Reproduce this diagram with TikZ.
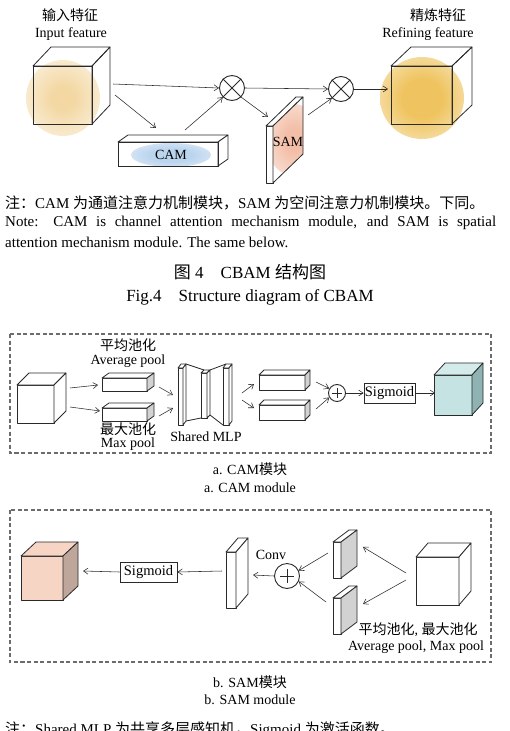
\documentclass[tikz,border=0pt]{standalone}
\usepackage{fontspec}
\setmainfont{Liberation Serif}
\newfontfamily\cjk{Noto Sans CJK SC}
\usetikzlibrary{arrows.meta}
\definecolor{gIn}{HTML}{F3D8A4}
\definecolor{gOut}{HTML}{EFC460}
\definecolor{gCam}{HTML}{BCD5EF}
\definecolor{gSam}{HTML}{F3BEA7}
\definecolor{cyF}{HTML}{C6E3E3}
\definecolor{cyT}{HTML}{D4EBEB}
\definecolor{cyS}{HTML}{8FB2B2}
\definecolor{pkF}{HTML}{F6D5C4}
\definecolor{pkS}{HTML}{BEA69B}
\definecolor{sideG}{HTML}{D2D2D2}
\definecolor{lineC}{HTML}{2A2A2A}
\pgfdeclareradialshading{glowIn}{\pgfpoint{0bp}{0bp}}{color(0bp)=(gIn); color(8bp)=(gIn); color(28bp)=(gIn!45!white); color(44bp)=(white); color(50bp)=(white)}
\pgfdeclareradialshading{glowOut}{\pgfpoint{0bp}{0bp}}{color(0bp)=(gOut); color(12bp)=(gOut); color(30bp)=(gOut!50!white); color(45bp)=(white); color(50bp)=(white)}
\pgfdeclareradialshading{glowCam}{\pgfpoint{0bp}{0bp}}{color(0bp)=(gCam); color(14bp)=(gCam); color(32bp)=(gCam!50!white); color(46bp)=(white); color(50bp)=(white)}
\pgfdeclareradialshading{glowSam}{\pgfpoint{0bp}{0bp}}{color(0bp)=(gSam); color(8bp)=(gSam); color(30bp)=(gSam!45!white); color(46bp)=(white); color(50bp)=(white)}
% #1 x, #2 y (front top-left), #3 w, #4 h, #5 dx, #6 dy(up), #7 front, #8 top, #9 side
\newcommand{\cbox}[9]{%
  \draw[boxline,fill=#7] (#1,#2) rectangle ++(#3,#4);
  \draw[boxline,fill=#8] (#1,#2) -- ++(#5,-#6) -- ++(#3,0) -- ++(-#5,#6) -- cycle;
  \draw[boxline,fill=#9] (#1+#3,#2) -- ++(#5,-#6) -- ++(0,#4) -- ++(-#5,#6) -- cycle;
}
\tikzset{
  boxline/.style={draw=lineC,line width=0.8pt,line join=round},
  arr/.style={draw=lineC,line width=0.55pt,-{Straight Barb[length=4.5pt,width=6pt]}},
  lbl/.style={inner sep=0pt,font=\fontsize{14}{16}\selectfont},
  note/.style={inner sep=0pt,anchor=west,font=\fontsize{15}{17}\selectfont},
  captxt/.style={inner sep=0pt,font=\fontsize{17}{19}\selectfont},
  opcirc/.style={circle,draw=lineC,line width=0.9pt,inner sep=0pt},
  sigbox/.style={draw=lineC,line width=0.9pt,inner sep=0pt,minimum height=20pt,font=\fontsize{14.5}{16}\selectfont},
  frame/.style={draw=gray!85!black,line width=1.2pt,dash pattern=on 4pt off 2.5pt}
}
\begin{document}
\begin{tikzpicture}[x=1pt,y=-1pt]
\useasboundingbox (0,0) rectangle (509,731);
\fill[white] (0,0) rectangle (509,731);

%================ top CBAM ==================
\node[lbl] (inZh) at (70,15) {\cjk 输入特征};
\node[lbl] (inEn) at (71,34) {Input feature};
\node[lbl] (outZh) at (438,15) {\cjk 精炼特征};
\node[lbl] (outEn) at (428,34) {Refining feature};

% input cube
\shade[shading=glowIn] (63,98) ellipse (37 and 38);
\cbox{33}{66}{59}{58}{18}{19}{none}{none}{none}
% output cube
\shade[shading=glowOut] (422,98) ellipse (42 and 41);
\cbox{391}{66}{61}{58}{20}{19}{none}{none}{none}

% CAM box
\cbox{118}{142}{100}{24}{10}{7}{white}{white}{white}
\shade[shading=glowCam] (171,155) ellipse (40 and 12);
\draw[boxline] (118,142) rectangle ++(100,24);
\node[lbl] (cam) at (171,155) {CAM};

% SAM slab
\draw[boxline,fill=white] (266,126) rectangle (273,183);
\draw[boxline,fill=white] (266,126) -- (296,97) -- (303,97) -- (273,126) -- cycle;
\begin{scope}
  \clip (273,126) -- (303,97) -- (303,154) -- (273,183) -- cycle;
  \fill[white] (273,97) rectangle (303,183);
  \shade[shading=glowSam] (294,140) ellipse (28 and 36);
\end{scope}
\draw[boxline] (273,126) -- (303,97) -- (303,154) -- (273,183) -- cycle;
\node[lbl] (sam) at (288,142) {SAM};

% multiply circles
\node[opcirc,minimum size=25pt] (c1) at (232,88) {};
\draw[lineC,line width=0.9pt] (c1.north west) -- (c1.south east) (c1.north east) -- (c1.south west);
\node[opcirc,minimum size=25pt] (c2) at (341,89) {};
\draw[lineC,line width=0.9pt] (c2.north west) -- (c2.south east) (c2.north east) -- (c2.south west);

\coordinate (inA) at (113,84);
\coordinate (inB) at (115,95);
\coordinate (camIn) at (156,128);
\coordinate (camOut) at (185,130);
\coordinate (samIn) at (268,117);
\coordinate (samOut) at (308,115);
\coordinate (outIn) at (388,89);
\draw[arr] (inA) -- (c1.west);
\draw[arr] (inB) -- (camIn);
\draw[arr] (camOut) -- (c1.-135);
\draw[arr] (c1.-45) -- (samIn);
\draw[arr] (c1.east) -- (c2.west);
\draw[arr] (samOut) -- (c2.-135);
\draw[arr] (c2.east) -- (outIn);

%================ notes & caption ==================
\node[note] (n1) at (5,203) {{\cjk 注：}CAM {\cjk 为通道注意力机制模块，}SAM {\cjk 为空间注意力机制模块。下同。}};
\node[note] (n2) at (5,223) {\makebox[491pt][s]{Note: CAM is channel attention mechanism module, and SAM is spatial}};
\node[note] (n3) at (5,242) {attention mechanism module. The same below.};
\node[captxt] (capZh) at (250,272) {{\cjk 图} 4\quad CBAM {\cjk 结构图}};
\node[captxt] (capEn) at (250,297) {Fig.4\quad Structure diagram of CBAM};

%================ CAM module ==================
\draw[frame] (10,334) rectangle (491,453);
\cbox{17}{385}{37}{38}{12}{12}{white}{white}{white}
\cbox{102}{378}{45}{13}{7}{5}{white}{white}{sideG}
\cbox{102}{408}{45}{13}{7}{5}{white}{white}{sideG}
\node[lbl] (avgZh) at (128,345) {\cjk 平均池化};
\node[lbl] (avgEn) at (128,361) {Average pool};
\node[lbl] (maxZh) at (128,429) {\cjk 最大池化};
\node[lbl] (maxEn) at (128,444) {Max pool};
\coordinate (cA1) at (70,388); \coordinate (cA2) at (98,385);
\coordinate (cB1) at (70,407); \coordinate (cB2) at (100,411);
\draw[arr] (cA1) -- (cA2);
\draw[arr] (cB1) -- (cB2);
\coordinate (mA1) at (159,387); \coordinate (mA2) at (173,395);
\coordinate (mB1) at (159,416); \coordinate (mB2) at (173,408);
\draw[arr] (mA1) -- (mA2);
\draw[arr] (mB1) -- (mB2);
% shared MLP
\draw[boxline] (186,364) -- (204,370);
\draw[boxline] (210,370) -- (226,364);
\draw[boxline] (186,421) -- (201,418);
\draw[boxline] (210,415) -- (223,425);
\cbox{178}{368}{5}{57}{3}{4}{white}{white}{white}
\cbox{201}{373}{6}{45}{3}{3}{white}{white}{white}
\cbox{223}{368}{6}{57}{3}{4}{white}{white}{white}
\node[lbl] (mlp) at (206,437) {Shared MLP};
\coordinate (oA1) at (242,393); \coordinate (oA2) at (254,384);
\coordinate (oB1) at (242,400); \coordinate (oB2) at (254,408);
\draw[arr] (oA1) -- (oA2);
\draw[arr] (oB1) -- (oB2);
\cbox{259}{375}{46}{15}{5}{5}{white}{white}{sideG}
\cbox{259}{405}{46}{15}{5}{5}{white}{white}{sideG}
\node[opcirc,minimum size=17pt] (p1) at (337,393) {};
\draw[lineC,line width=0.6pt] ([xshift=3.5pt]p1.west) -- ([xshift=-3.5pt]p1.east) ([yshift=-3.5pt]p1.north) -- ([yshift=3.5pt]p1.south);
\coordinate (pA) at (316,382); \coordinate (pB) at (316,409);
\draw[arr] (pA) -- (p1.150);
\draw[arr] (pB) -- (p1.-150);
\node[sigbox,minimum width=51pt] (sig1) at (389.5,393) {Sigmoid};
\draw[arr] (p1.east) -- (sig1.west);
\coordinate (cyIn) at (435,393);
\draw[arr] (sig1.east) -- (cyIn);
\cbox{434}{375}{38}{40}{11}{12}{cyF}{cyT}{cyS}
\node[lbl] (capA1) at (250,469) {a. CAM{\cjk 模块}};
\node[lbl] (capA2) at (250,488) {a. CAM module};

%================ SAM module ==================
\draw[frame] (10,510) rectangle (491,662);
\cbox{21}{556}{42}{44}{15}{14}{pkF}{pkF}{pkS}
\node[sigbox,minimum width=57pt] (sig2) at (148.5,572) {Sigmoid};
\coordinate (pkIn) at (83,571);
\draw[arr] (sig2.west) -- (pkIn);
\cbox{226}{552}{10}{56}{12}{14}{white}{white}{white}
\coordinate (slabOut) at (222,571);
\draw[arr] (slabOut) -- (sig2.east);
\node[lbl] (conv) at (271,555) {Conv};
\node[opcirc,minimum size=25pt] (p2) at (287,576) {};
\draw[lineC,line width=0.6pt] ([xshift=6pt]p2.west) -- ([xshift=-6pt]p2.east) ([yshift=-6pt]p2.north) -- ([yshift=6pt]p2.south);
\coordinate (slabIn) at (253,575);
\draw[arr] (p2.west) -- (slabIn);
\cbox{333}{542}{8}{36}{16}{12}{white}{white}{sideG}
\cbox{333}{598}{8}{36}{16}{12}{white}{white}{sideG}
\coordinate (sA) at (328,553); \coordinate (sB) at (326,602);
\draw[arr] (sA) -- (p2.25);
\draw[arr] (sB) -- (p2.-25);
\cbox{416}{557}{43}{48}{12}{14}{white}{white}{white}
\coordinate (wA) at (406,573); \coordinate (wA2) at (363,547);
\coordinate (wB) at (406,580); \coordinate (wB2) at (363,604);
\draw[arr] (wA) -- (wA2);
\draw[arr] (wB) -- (wB2);
\node[lbl] (poolZh) at (418,630) {{\cjk 平均池化}, {\cjk 最大池化}};
\node[lbl] (poolEn) at (416,647) {Average pool, Max pool};
\node[lbl] (capB1) at (250,682) {b. SAM{\cjk 模块}};
\node[lbl] (capB2) at (250,700) {b. SAM module};

\node[note,anchor=base west] (n4) at (5,734) {{\cjk 注：}Shared MLP {\cjk 为共享多层感知机，}Sigmoid {\cjk 为激活函数。}};
\end{tikzpicture}
\end{document}
